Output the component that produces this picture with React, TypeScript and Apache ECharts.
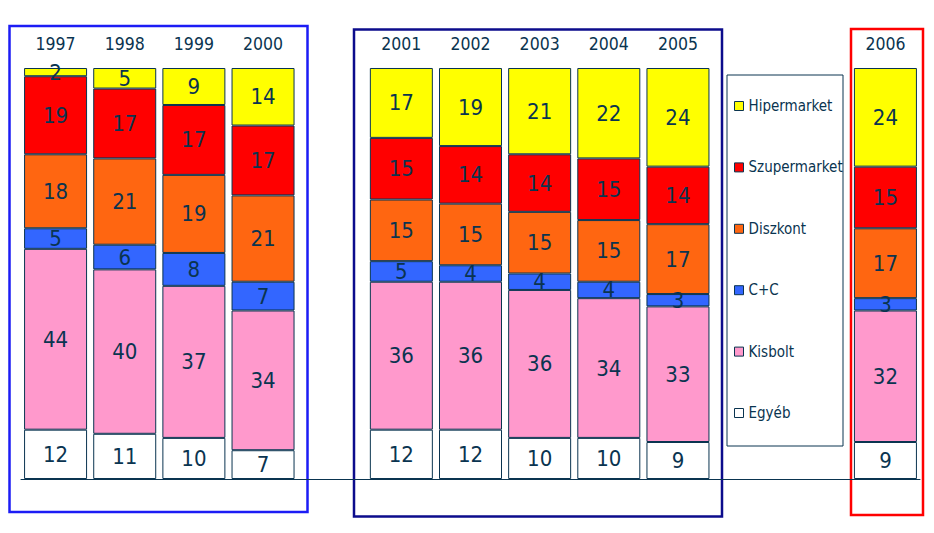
import React, { useEffect, useRef } from "react";
import * as echarts from "echarts";

const years = ["1997", "1998", "1999", "2000", "2001", "2002", "2003", "2004", "2005", "2006"];
const slots = ["1997", "1998", "1999", "2000", "gap1", "2001", "2002", "2003", "2004", "2005", "gap2", "gap3", "2006"];

const hipermarket = [2, 5, 9, 14, 17, 19, 21, 22, 24, 24];
const szupermarket = [19, 17, 17, 17, 15, 14, 14, 15, 14, 15];
const diszkont = [18, 21, 19, 21, 15, 15, 15, 15, 17, 17];
const cc = [5, 6, 8, 7, 5, 4, 4, 4, 3, 3];
const kisbolt = [44, 40, 37, 34, 36, 36, 36, 34, 33, 32];
const egyeb = [12, 11, 10, 7, 12, 12, 10, 10, 9, 9];

const legendNames = ["Hipermarket", "Szupermarket", "Diszkont", "C+C", "Kisbolt", "Egyéb"];

const DARK = "#0a3450";
const FONT = "DejaVu Sans Condensed";

function toSlots(values: number[]) {
  return slots.map((s) => {
    const i = years.indexOf(s);
    return i >= 0 ? values[i] : null;
  });
}

export default function App() {
  const ref = useRef<HTMLDivElement>(null);
  useEffect(() => {
    if (!ref.current) return;
    const chart = echarts.init(ref.current, null, { renderer: "svg" });
    const stackSeries = [
      { name: "Egyéb", data: egyeb, color: "#FFFFFF" },
      { name: "Kisbolt", data: kisbolt, color: "#FF99CC" },
      { name: "C+C", data: cc, color: "#3366FF" },
      { name: "Diszkont", data: diszkont, color: "#FF6611" },
      { name: "Szupermarket", data: szupermarket, color: "#FF0000" },
      { name: "Hipermarket", data: hipermarket, color: "#FFFF00" },
    ];
    chart.setOption({
      animation: false,
      backgroundColor: "#FFFFFF",
      grid: { left: 21, right: 14, top: 68, bottom: 54 },
      xAxis: [
        {
          type: "category",
          data: slots,
          position: "top",
          axisLine: { show: false },
          axisTick: { show: false },
          axisLabel: {
            interval: 0,
            margin: 15,
            color: DARK,
            fontFamily: FONT,
            fontSize: 17.5,
            formatter: (v: string) => (v.startsWith("gap") ? "" : v),
          },
        },
        {
          type: "category",
          data: slots,
          position: "bottom",
          axisLine: { show: true, lineStyle: { color: DARK, width: 1 } },
          axisTick: { show: false },
          axisLabel: { show: false },
        },
      ],
      yAxis: {
        type: "value",
        min: 0,
        max: 100,
        show: false,
      },
      legend: {
        orient: "vertical",
        left: 734,
        top: 98,
        padding: 0,
        data: legendNames,
        icon: "rect",
        itemWidth: 9,
        itemHeight: 9,
        itemGap: 45.4,
        textStyle: { color: DARK, fontFamily: FONT, fontSize: 15, lineHeight: 16 },
        itemStyle: { borderColor: DARK, borderWidth: 1 },
      },
      graphic: [
        { type: "rect", shape: { x: 727, y: 75, width: 116, height: 371 }, style: { fill: "none", stroke: DARK, lineWidth: 1 } },
        { type: "rect", shape: { x: 9.5, y: 26, width: 298, height: 486 }, style: { fill: "none", stroke: "#1c1cf5", lineWidth: 2.5 } },
        { type: "rect", shape: { x: 354, y: 29.5, width: 368, height: 487 }, style: { fill: "none", stroke: "#0c0c8c", lineWidth: 2.5 } },
        { type: "rect", shape: { x: 851, y: 29, width: 72, height: 486 }, style: { fill: "none", stroke: "#ff0000", lineWidth: 2.5 } },
      ],
      series: stackSeries.map((s) => ({
        name: s.name,
        type: "bar",
        stack: "total",
        barWidth: 63,
        data: toSlots(s.data),
        itemStyle: { color: s.color, borderColor: DARK, borderWidth: 1 },
        label: {
          show: true,
          position: "inside",
          color: DARK,
          fontFamily: FONT,
          fontSize: 22,
          formatter: "{c}",
        },
      })),
    });
    return () => chart.dispose();
  }, []);
  return (
    <div
      ref={ref}
      style={{ position: "fixed", left: 0, top: 0, width: 934, height: 533, background: "#fff" }}
    />
  );
}
